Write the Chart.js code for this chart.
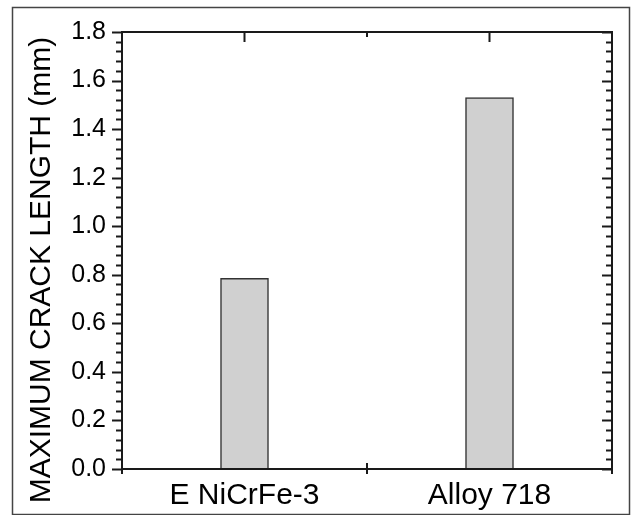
<!DOCTYPE html>
<html>
<head>
<meta charset="utf-8">
<script src="https://cdn.jsdelivr.net/npm/chart.js@4"></script>
<style>
  body { margin: 0; background: #fff; }
</style>
</head>
<body>
<canvas id="crackChart" width="632" height="515"></canvas>
<script>
// Weld metal categories and measured maximum crack length (mm)
const alloys = ['E NiCrFe-3', 'Alloy 718'];
const crackLength = [0.785, 1.53];

// Y axis range and tick spacing
const yMin = 0;
const yMax = 1.8;
const yMajorStep = 0.2;
const yMinorStep = 0.04;

const axisColor = '#1a1a1a';
const fontFamily = '"Liberation Sans", Arial, Helvetica, sans-serif';

// Draws the boxed axes with outward/inward ticks, the y title and the outer frame
const frameAxes = {
    id: 'frameAxes',
    afterDraw(chart) {
        const ctx = chart.ctx;
        const area = chart.chartArea;
        const x = chart.scales.x;
        const y = chart.scales.y;
        ctx.save();

        // outer frame around the figure
        ctx.strokeStyle = '#444';
        ctx.lineWidth = 1.5;
        ctx.strokeRect(12.5, 7.5, 617, 507);

        ctx.strokeStyle = axisColor;
        ctx.lineWidth = 2;
        ctx.strokeRect(area.left, area.top, area.right - area.left, area.bottom - area.top);

        // y ticks: majors and minors, outward on the left, inward on the right
        const nMinor = Math.round((yMax - yMin) / yMinorStep);
        const perMajor = Math.round(yMajorStep / yMinorStep);
        ctx.beginPath();
        for (let i = 0; i <= nMinor; i++) {
            const py = Math.round(y.getPixelForValue(yMin + i * yMinorStep)) + 0.5;
            const len = (i % perMajor === 0) ? 10 : 6;
            ctx.moveTo(area.left - len, py);
            ctx.lineTo(area.left, py);
            ctx.moveTo(area.right, py);
            ctx.lineTo(area.right - len, py);
        }
        ctx.stroke();

        // top axis: long ticks at categories, short tick between them
        const centers = alloys.map((_, i) => x.getPixelForValue(i));
        ctx.beginPath();
        centers.forEach(cx => {
            ctx.moveTo(cx, area.top);
            ctx.lineTo(cx, area.top + 10);
        });
        const mid = (centers[0] + centers[1]) / 2;
        ctx.moveTo(mid, area.top);
        ctx.lineTo(mid, area.top + 5);

        // bottom axis: ticks crossing the line at the edges and between categories
        [area.left, mid, area.right].forEach(bx => {
            ctx.moveTo(bx, area.bottom - 6);
            ctx.lineTo(bx, area.bottom + 5);
        });
        ctx.stroke();

        // y axis title
        ctx.translate(42, 270);
        ctx.rotate(-Math.PI / 2);
        ctx.fillStyle = '#000';
        ctx.font = '30px ' + fontFamily;
        ctx.textAlign = 'center';
        ctx.textBaseline = 'middle';
        ctx.fillText('MAXIMUM CRACK LENGTH (mm)', 0, 0);
        ctx.restore();
    }
};

new Chart(document.getElementById('crackChart'), {
    type: 'bar',
    data: {
        labels: alloys,
        datasets: [{
            data: crackLength,
            backgroundColor: '#d0d0d0',
            borderColor: '#333',
            borderWidth: 1.5,
            borderSkipped: 'bottom',
            barThickness: 48
        }]
    },
    options: {
        responsive: false,
        animation: false,
        layout: {
            padding: { top: 32, right: 20, left: 0, bottom: 0 }
        },
        plugins: {
            legend: { display: false },
            tooltip: { enabled: false }
        },
        scales: {
            x: {
                grid: { display: false, drawTicks: false },
                border: { display: false },
                ticks: {
                    color: '#000',
                    font: { family: fontFamily, size: 30 },
                    padding: 9
                },
                afterFit: s => { s.height = 46; }
            },
            y: {
                min: yMin,
                max: yMax,
                grid: { display: false, drawTicks: true, tickLength: 10 },
                border: { display: false },
                ticks: {
                    stepSize: yMajorStep,
                    color: '#000',
                    padding: 6,
                    font: { family: fontFamily, size: 25 },
                    callback: v => v.toFixed(1)
                },
                afterFit: s => { s.width = 122; }
            }
        }
    },
    plugins: [frameAxes]
});
</script>
</body>
</html>
